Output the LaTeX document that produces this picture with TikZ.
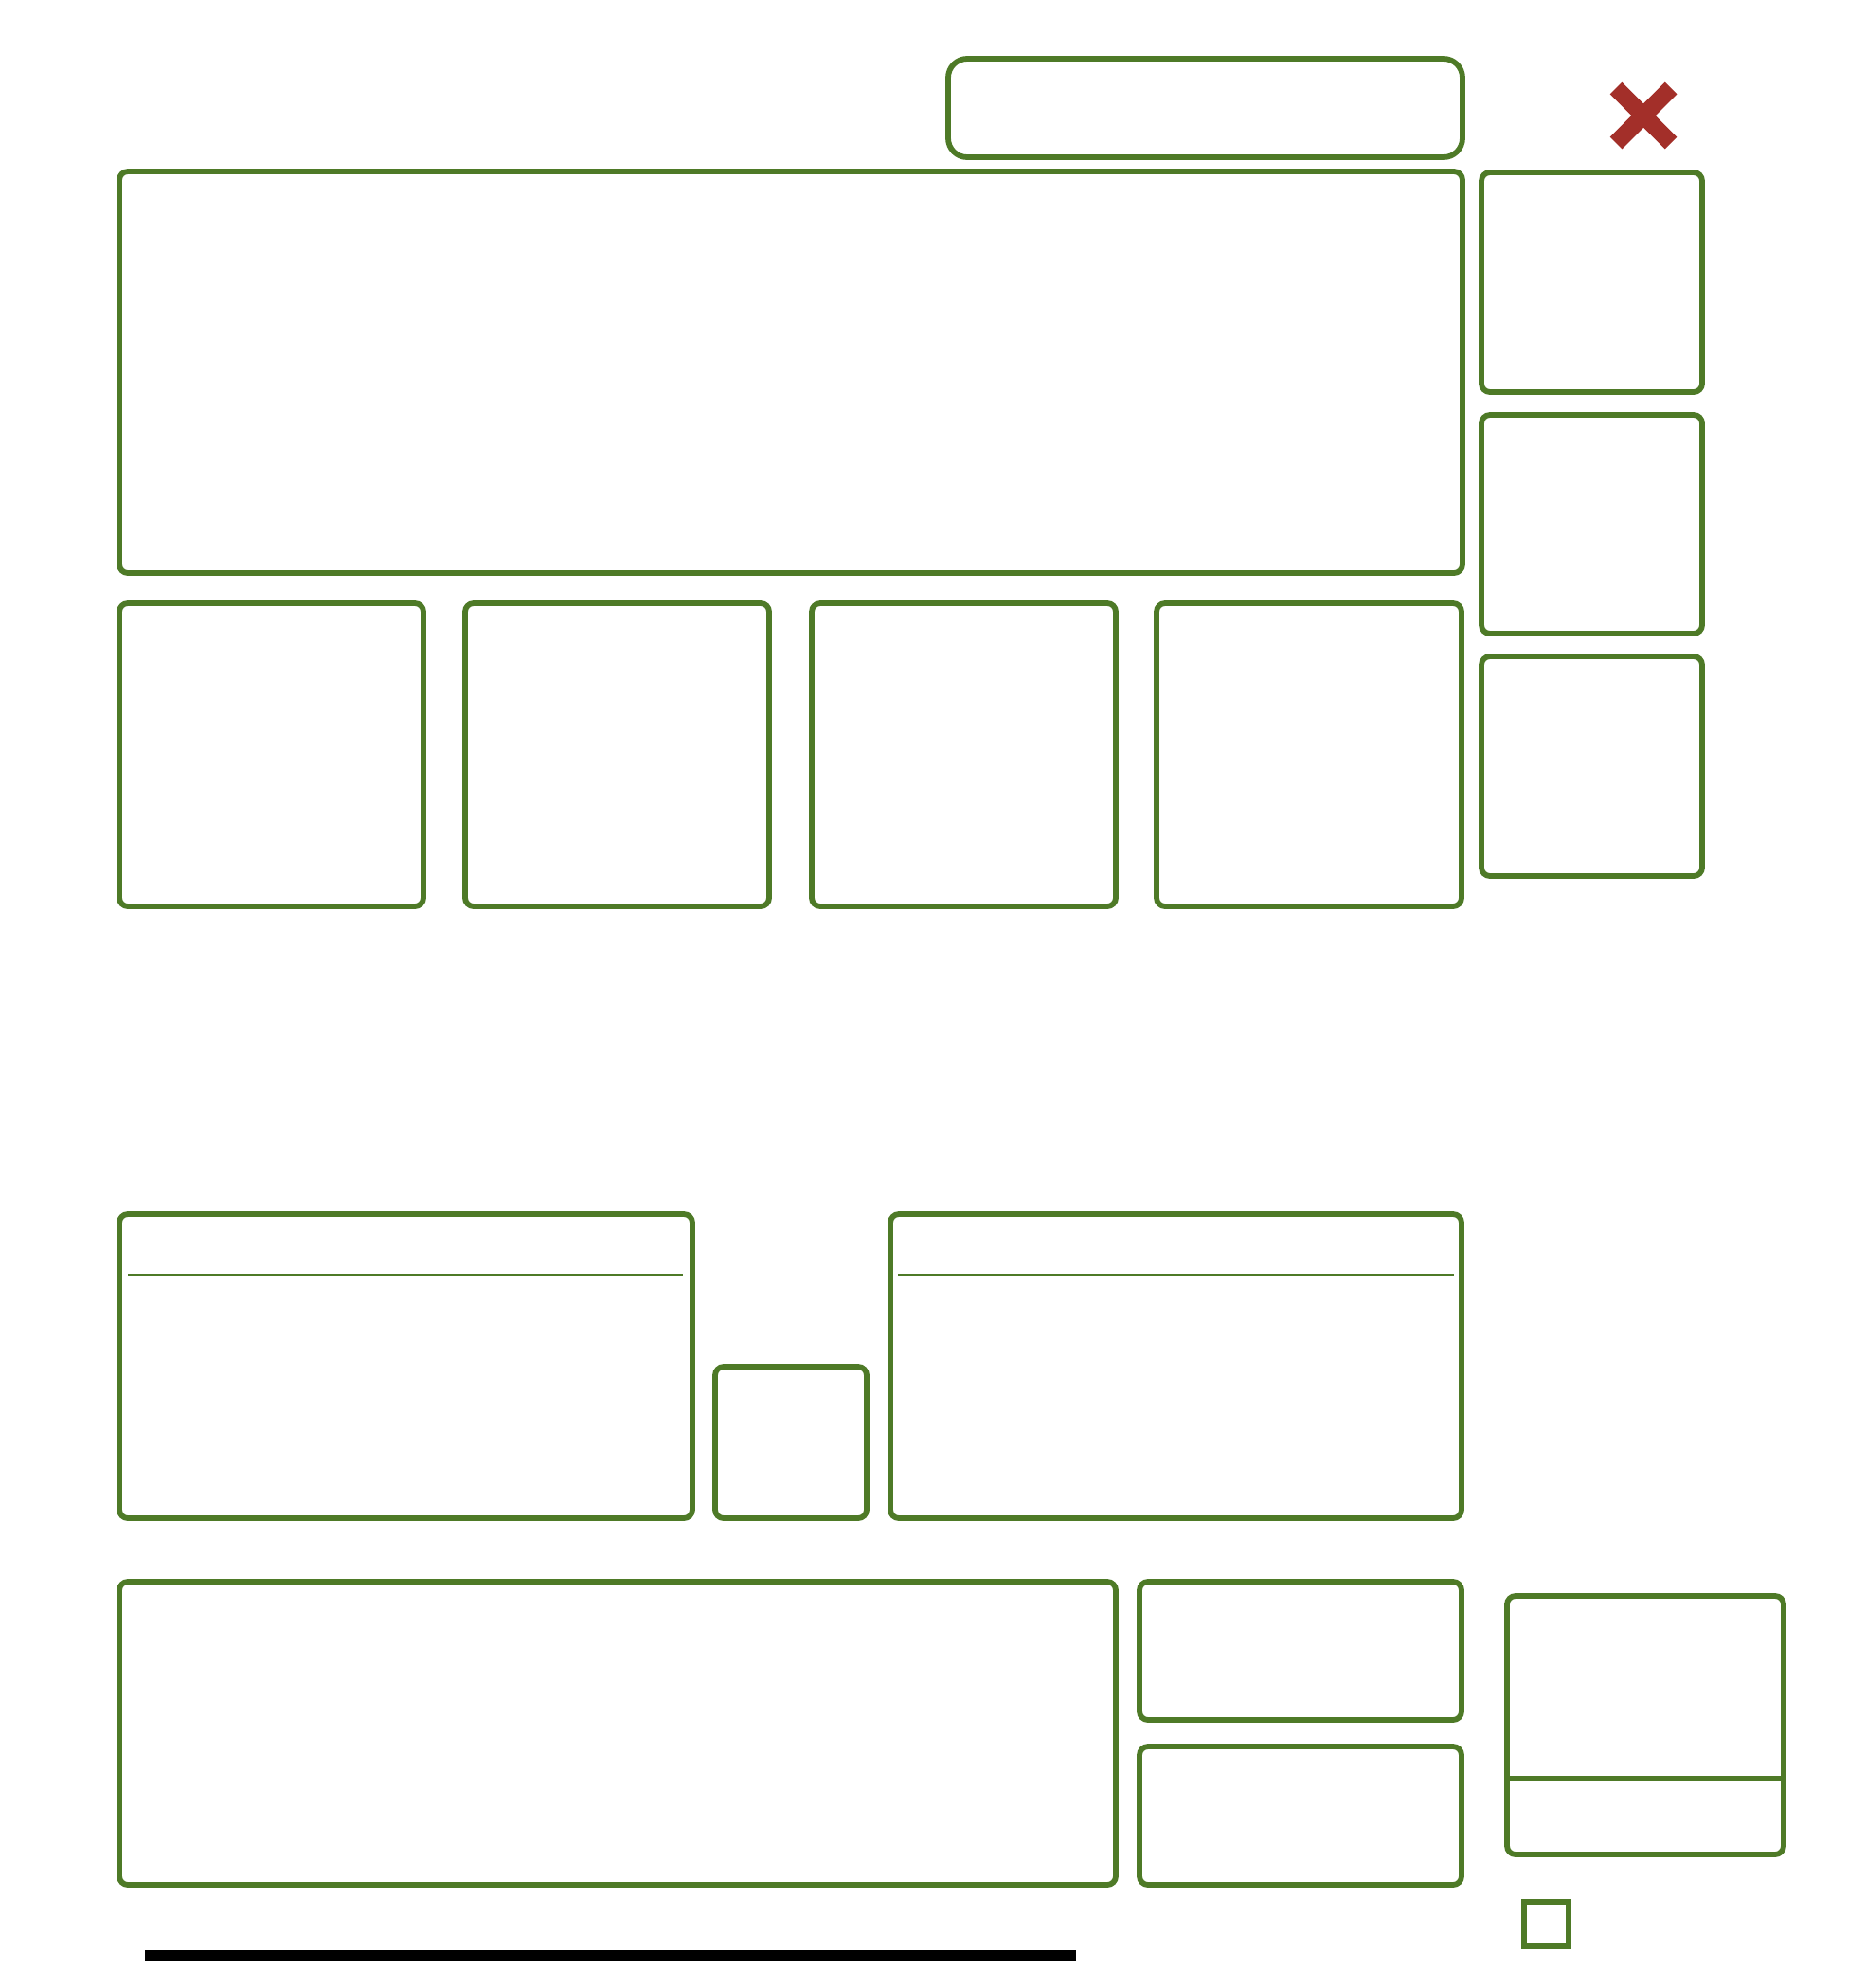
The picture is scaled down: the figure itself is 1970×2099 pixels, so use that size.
\documentclass[tikz,border=0pt]{standalone}
\definecolor{boxgreen}{RGB}{78,122,39}
\definecolor{xred}{RGB}{163,47,41}
\begin{document}
\begin{tikzpicture}[x=0.01cm,y=-0.01cm,
  box/.style={draw=boxgreen,line width=0.058cm,rounded corners=0.09cm},
  pill/.style={draw=boxgreen,line width=0.058cm,rounded corners=0.2cm},
  thin/.style={draw=boxgreen,line width=0.4pt},
  divider/.style={draw=boxgreen,line width=0.05cm},
  cross/.style={draw=xred,line width=0.18cm,line cap=butt}]
\useasboundingbox[fill=white] (0,0) rectangle (1970,2099);
% top pill
\draw[pill] (1001,62) rectangle (1544,166);
% red cross
\draw[cross] (1706,93) -- (1764,151);
\draw[cross] (1764,93) -- (1706,151);
% big box
\draw[box] (126,181) rectangle (1544,605);
% right column
\draw[box] (1564,182) rectangle (1797,414);
\draw[box] (1564,438) rectangle (1797,669);
\draw[box] (1564,693) rectangle (1797,925);
% row of four
\draw[box] (126,637) rectangle (447,957);
\draw[box] (491,637) rectangle (812,957);
\draw[box] (857,637) rectangle (1178,957);
\draw[box] (1221,637) rectangle (1543,957);
% middle row
\draw[box] (126,1282) rectangle (731,1603);
\draw[thin] (135,1346) -- (721,1346);
\draw[box] (755,1443) rectangle (915,1603);
\draw[box] (940,1282) rectangle (1543,1603);
\draw[thin] (948,1346) -- (1535,1346);
% bottom row
\draw[box] (126,1670) rectangle (1178,1990);
\draw[box] (1203,1670) rectangle (1543,1816);
\draw[box] (1203,1844) rectangle (1543,1990);
% far right box with divider
\draw[box] (1591,1685) rectangle (1883,1958);
\draw[divider] (1591,1877) -- (1883,1877);
% small square
\draw[draw=boxgreen,line width=0.057cm] (1609,2008) rectangle (1656,2055);
% black bar
\fill[black] (153,2059) rectangle (1136,2071);
\end{tikzpicture}
\end{document}
